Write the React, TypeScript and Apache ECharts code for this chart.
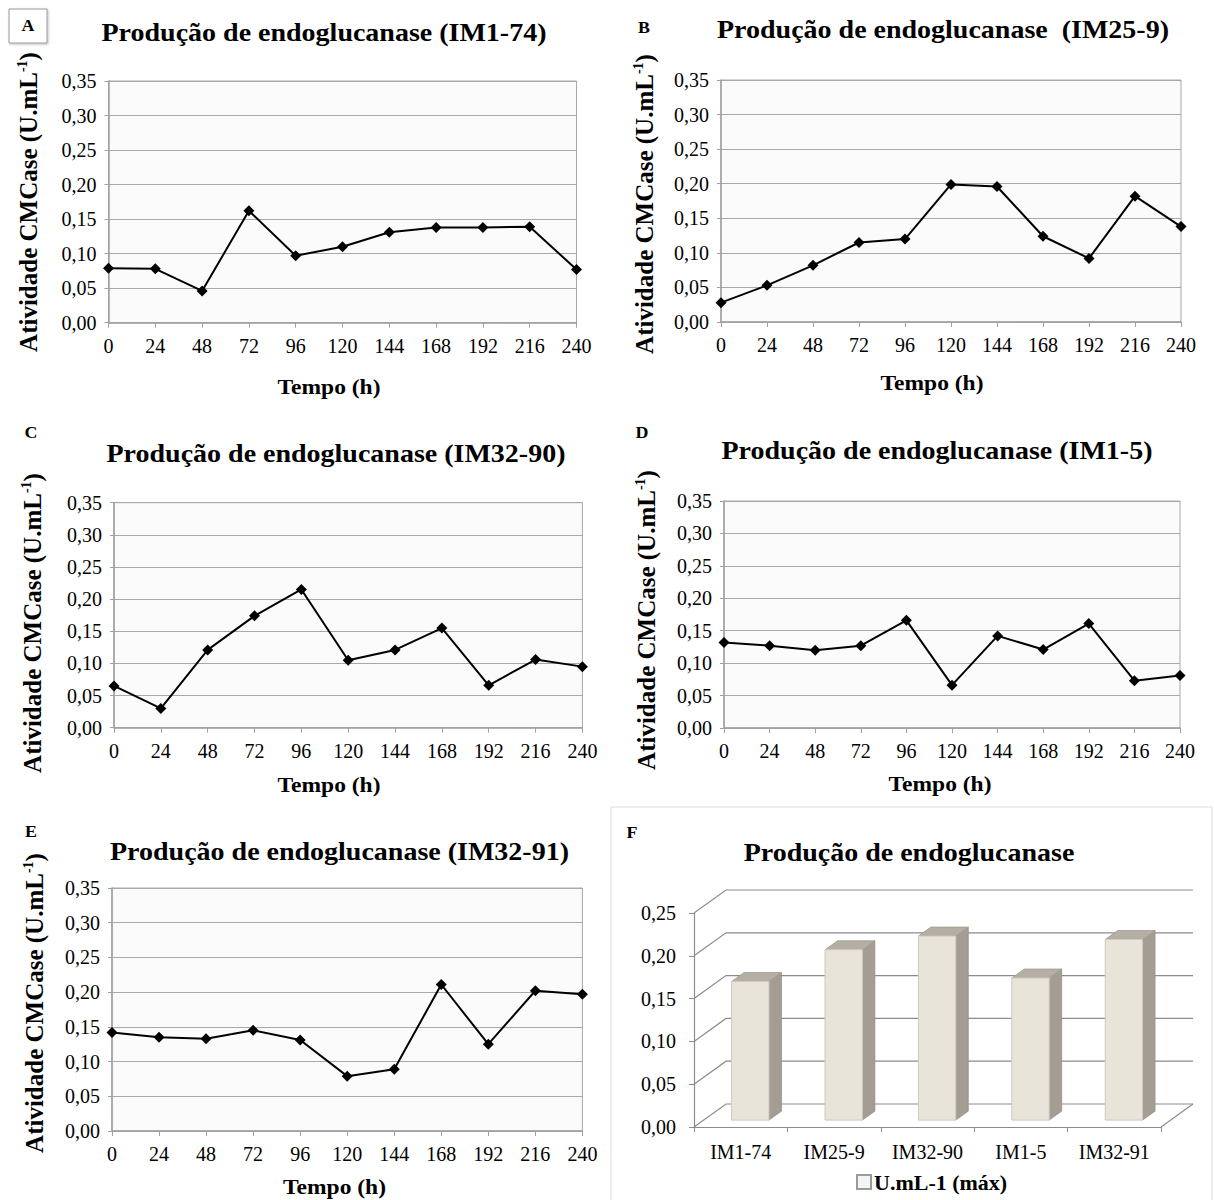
import React, { useEffect, useRef } from 'react';
import * as echarts from 'echarts';

// ---------- data ----------
const hours = ['0', '24', '48', '72', '96', '120', '144', '168', '192', '216', '240'];
const im1_74 = [0.079, 0.078, 0.046, 0.162, 0.097, 0.110, 0.131, 0.138, 0.138, 0.139, 0.077];
const im25_9 = [0.028, 0.053, 0.082, 0.115, 0.120, 0.199, 0.196, 0.124, 0.092, 0.182, 0.138];
const im32_90 = [0.065, 0.030, 0.121, 0.174, 0.215, 0.105, 0.121, 0.155, 0.066, 0.106, 0.095];
const im1_5 = [0.132, 0.127, 0.120, 0.127, 0.166, 0.066, 0.142, 0.121, 0.161, 0.073, 0.081];
const im32_91 = [0.142, 0.135, 0.133, 0.145, 0.131, 0.079, 0.089, 0.211, 0.125, 0.202, 0.197];
const strains = ['IM1-74', 'IM25-9', 'IM32-90', 'IM1-5', 'IM32-91'];
const maxActivity = [0.162, 0.199, 0.215, 0.166, 0.211];
const barGridValues = [0, 0.05, 0.1, 0.15, 0.2, 0.25];
const lineTitles = [
  'Produção de endoglucanase (IM1-74)',
  'Produção de endoglucanase  (IM25-9)',
  'Produção de endoglucanase (IM32-90)',
  'Produção de endoglucanase (IM1-5)',
  'Produção de endoglucanase (IM32-91)',
];
const panelLetters = ['A', 'B', 'C', 'D', 'E', 'F'];
const barTitle = 'Produção de endoglucanase';
const legendName = 'U.mL-1 (máx)';
const xName = 'Tempo (h)';

// ---------- layout ----------
const FONT = '"Liberation Serif", "Times New Roman", serif';
const SX = 1.12;
const lineSeriesData = [im1_74, im25_9, im32_90, im1_5, im32_91];
const lineGrids = [
  { left: 108.5, top: 81, width: 468, height: 241.7 },
  { left: 721, top: 80, width: 460, height: 242 },
  { left: 114, top: 502.7, width: 468.4, height: 225 },
  { left: 724, top: 501, width: 456, height: 227 },
  { left: 112, top: 888, width: 470.4, height: 243 },
];
const titlePos = [[324, 33], [943, 30], [336, 454], [937, 451], [339.5, 852], [909, 853]];
const letterPos = [[28, 26], [644, 28], [31, 433], [642, 433], [31, 832], [632, 833]];
const yNamePos = [[28, 202], [644, 204], [32, 623], [646, 620], [34, 1003]];
const xNamePos = [[329, 387], [932, 383], [329, 785], [940, 784], [334.5, 1187]];
const barGrid = { left: 694, top: 913, width: 467, height: 214 };
const DX = 32;
const DY = -23;

const fmt = (v: number) => v.toFixed(2).replace('.', ',');

function buildOption() {
  const grid: any[] = [];
  const xAxis: any[] = [];
  const yAxis: any[] = [];
  const series: any[] = [];
  const graphic: any[] = [];

  lineGrids.forEach((g, i) => {
    grid.push({
      ...g,
      show: true,
      borderColor: '#a8a8a8',
      borderWidth: 1,
      backgroundColor: '#fbfbfb',
      containLabel: false,
    });
    xAxis.push({
      type: 'category',
      gridIndex: i,
      data: hours,
      boundaryGap: false,
      axisLine: { show: true, lineStyle: { color: '#a0a0a0', width: 1.5 } },
      axisTick: { show: true, length: 5, interval: 0, lineStyle: { color: '#a0a0a0' } },
      axisLabel: { interval: 0, fontFamily: FONT, fontSize: 20, color: '#000', margin: 13 },
      splitLine: { show: false },
    });
    yAxis.push({
      type: 'value',
      gridIndex: i,
      min: 0,
      max: 0.35,
      interval: 0.05,
      axisLine: { show: true, lineStyle: { color: '#a0a0a0', width: 1.5 } },
      axisTick: { show: true, length: 4, lineStyle: { color: '#a0a0a0' } },
      axisLabel: { fontFamily: FONT, fontSize: 20, color: '#000', margin: 12, formatter: fmt },
      splitLine: { show: true, lineStyle: { color: '#a8a8a8', width: 1.2 } },
    });
    series.push({
      type: 'line',
      name: lineTitles[i],
      xAxisIndex: i,
      yAxisIndex: i,
      data: lineSeriesData[i],
      symbol: 'diamond',
      symbolSize: 11,
      lineStyle: { color: '#000', width: 2 },
      itemStyle: { color: '#000' },
      z: 5,
    });
    graphic.push({
      type: 'text',
      x: yNamePos[i][0],
      y: yNamePos[i][1],
      rotation: Math.PI / 2,
      silent: true,
      style: {
        text: '{a|Atividade CMCase (U.mL}{s|-1}{a|)}',
        align: 'center',
        verticalAlign: 'middle',
        fill: '#000',
        rich: {
          a: { fontFamily: FONT, fontSize: 25, fontWeight: 'bold', fill: '#000', color: '#000' },
          s: { fontFamily: FONT, fontSize: 14, fontWeight: 'bold', fill: '#000', color: '#000', verticalAlign: 'top' },
        },
      },
    });
    graphic.push({
      type: 'text',
      x: xNamePos[i][0],
      y: xNamePos[i][1],
      scaleX: SX,
      silent: true,
      style: {
        text: xName,
        align: 'center',
        verticalAlign: 'middle',
        fill: '#000',
        fontFamily: FONT,
        fontSize: 21,
        fontWeight: 'bold',
      },
    });
    graphic.push({
      type: 'text',
      x: titlePos[i][0],
      y: titlePos[i][1],
      scaleX: SX,
      silent: true,
      style: {
        text: lineTitles[i],
        align: 'center',
        verticalAlign: 'middle',
        fill: '#000',
        fontFamily: FONT,
        fontSize: 25,
        fontWeight: 'bold',
      },
    });
  });

  // ---------- panel F (3D-like bars) ----------
  const fi = lineGrids.length;
  grid.push({ ...barGrid, show: false, containLabel: false });
  xAxis.push({
    type: 'category',
    gridIndex: fi,
    data: strains,
    boundaryGap: true,
    axisLine: { show: true, lineStyle: { color: '#8c8c8c', width: 1.2 } },
    axisTick: { show: true, length: 5, interval: 0, lineStyle: { color: '#8c8c8c' } },
    axisLabel: { interval: 0, fontFamily: FONT, fontSize: 20, color: '#000', margin: 15 },
    splitLine: { show: false },
  });
  yAxis.push({
    type: 'value',
    gridIndex: fi,
    min: 0,
    max: 0.25,
    interval: 0.05,
    axisLine: { show: true, lineStyle: { color: '#8c8c8c', width: 1.2 } },
    axisTick: { show: true, length: 5, lineStyle: { color: '#8c8c8c' } },
    axisLabel: { fontFamily: FONT, fontSize: 20, color: '#000', margin: 18, formatter: fmt },
    splitLine: { show: false },
  });
  series.push({
    type: 'custom',
    name: 'frame',
    xAxisIndex: fi,
    yAxisIndex: fi,
    silent: true,
    z: 1,
    data: barGridValues.map((v) => [0, v]),
    renderItem: (params: any, api: any) => {
      const cs = params.coordSys;
      const v = api.value(1);
      const y = api.coord([0, v])[1];
      const xl = cs.x;
      const xr = cs.x + cs.width;
      const st = { stroke: '#8c8c8c', lineWidth: 1.2, fill: null };
      const children: any[] = [
        { type: 'polyline', shape: { points: [[xl, y], [xl + DX, y + DY], [xr + DX, y + DY]] }, style: st },
      ];
      if (v === 0) {
        children.push({ type: 'line', shape: { x1: xr, y1: y, x2: xr + DX, y2: y + DY }, style: st });
      }
      return { type: 'group', children };
    },
  });
  series.push({
    type: 'custom',
    name: legendName,
    xAxisIndex: fi,
    yAxisIndex: fi,
    z: 3,
    itemStyle: { color: '#f4f4f4', borderColor: '#9a9a9a', borderWidth: 1 },
    data: maxActivity.map((v, i) => [i, v]),
    renderItem: (params: any, api: any) => {
      const i = api.value(0);
      const v = api.value(1);
      const top = api.coord([i, v]);
      const base = api.coord([i, 0]);
      const bw = api.size([1, 0])[0];
      const w = bw * 0.4;
      const fdx = DX * 0.3;
      const fdy = DY * 0.3;
      const sdx = DX * 0.39;
      const sdy = DY * 0.39;
      const xl = top[0] - w / 2 + fdx;
      const xr = top[0] + w / 2 + fdx;
      const yt = top[1] + fdy;
      const yb = base[1] + fdy;
      return {
        type: 'group',
        children: [
          {
            type: 'polygon',
            shape: { points: [[xr, yt], [xr + sdx, yt + sdy], [xr + sdx, yb + sdy], [xr, yb]] },
            style: { fill: '#a39d93', stroke: '#97918a', lineWidth: 0.8 },
          },
          {
            type: 'polygon',
            shape: { points: [[xl, yt], [xr, yt], [xr + sdx, yt + sdy], [xl + sdx, yt + sdy]] },
            style: { fill: '#b4aea3', stroke: '#a29c92', lineWidth: 0.8 },
          },
          {
            type: 'rect',
            shape: { x: xl, y: yt, width: w, height: yb - yt },
            style: { fill: '#e9e4d9', stroke: '#cfcac1', lineWidth: 1 },
          },
        ],
      };
    },
  });

  // F frame, title
  graphic.push({
    type: 'rect',
    silent: true,
    z: -10,
    shape: { x: 611, y: 807, width: 601, height: 400 },
    style: { fill: 'none', stroke: '#dcdcdc', lineWidth: 1 },
  });
  graphic.push({
    type: 'text',
    x: titlePos[5][0],
    y: titlePos[5][1],
    scaleX: SX,
    silent: true,
    style: {
      text: barTitle,
      align: 'center',
      verticalAlign: 'middle',
      fill: '#000',
      fontFamily: FONT,
      fontSize: 25,
      fontWeight: 'bold',
    },
  });

  // A box
  graphic.push({
    type: 'rect',
    silent: true,
    shape: { x: 9, y: 9, width: 38, height: 34 },
    style: { fill: '#fff', stroke: '#9a9a9a', lineWidth: 1, shadowBlur: 2, shadowColor: 'rgba(0,0,0,0.25)', shadowOffsetX: 1, shadowOffsetY: 1 },
  });
  panelLetters.forEach((l, i) => {
    graphic.push({
      type: 'text',
      x: letterPos[i][0],
      y: letterPos[i][1],
      scaleX: SX,
      silent: true,
      z: 10,
      style: {
        text: l,
        align: 'center',
        verticalAlign: 'middle',
        fill: '#000',
        fontFamily: FONT,
        fontSize: 16,
        fontWeight: 'bold',
      },
    });
  });

  return {
    animation: false,
    backgroundColor: '#ffffff',
    textStyle: { fontFamily: FONT },
    grid,
    xAxis,
    yAxis,
    series,
    graphic,
    legend: {
      data: [{ name: legendName, icon: 'rect' }],
      left: 856,
      top: 1171,
      padding: 0,
      itemWidth: 14,
      itemHeight: 14,
      selectedMode: false,
      textStyle: { fontFamily: FONT, fontSize: 22, fontWeight: 'bold', color: '#000', padding: [0, 0, 0, -2] },
    },
  };
}

export default function App() {
  const ref = useRef<HTMLDivElement>(null);
  useEffect(() => {
    document.body.style.margin = '0';
    document.body.style.overflow = 'hidden';
    if (!ref.current) return;
    const chart = echarts.init(ref.current, undefined, { renderer: 'svg', width: 1214, height: 1200 });
    chart.setOption(buildOption() as any);
    return () => {
      chart.dispose();
    };
  }, []);
  return <div ref={ref} style={{ width: 1214, height: 1200, position: 'absolute', left: 0, top: 0 }} />;
}
